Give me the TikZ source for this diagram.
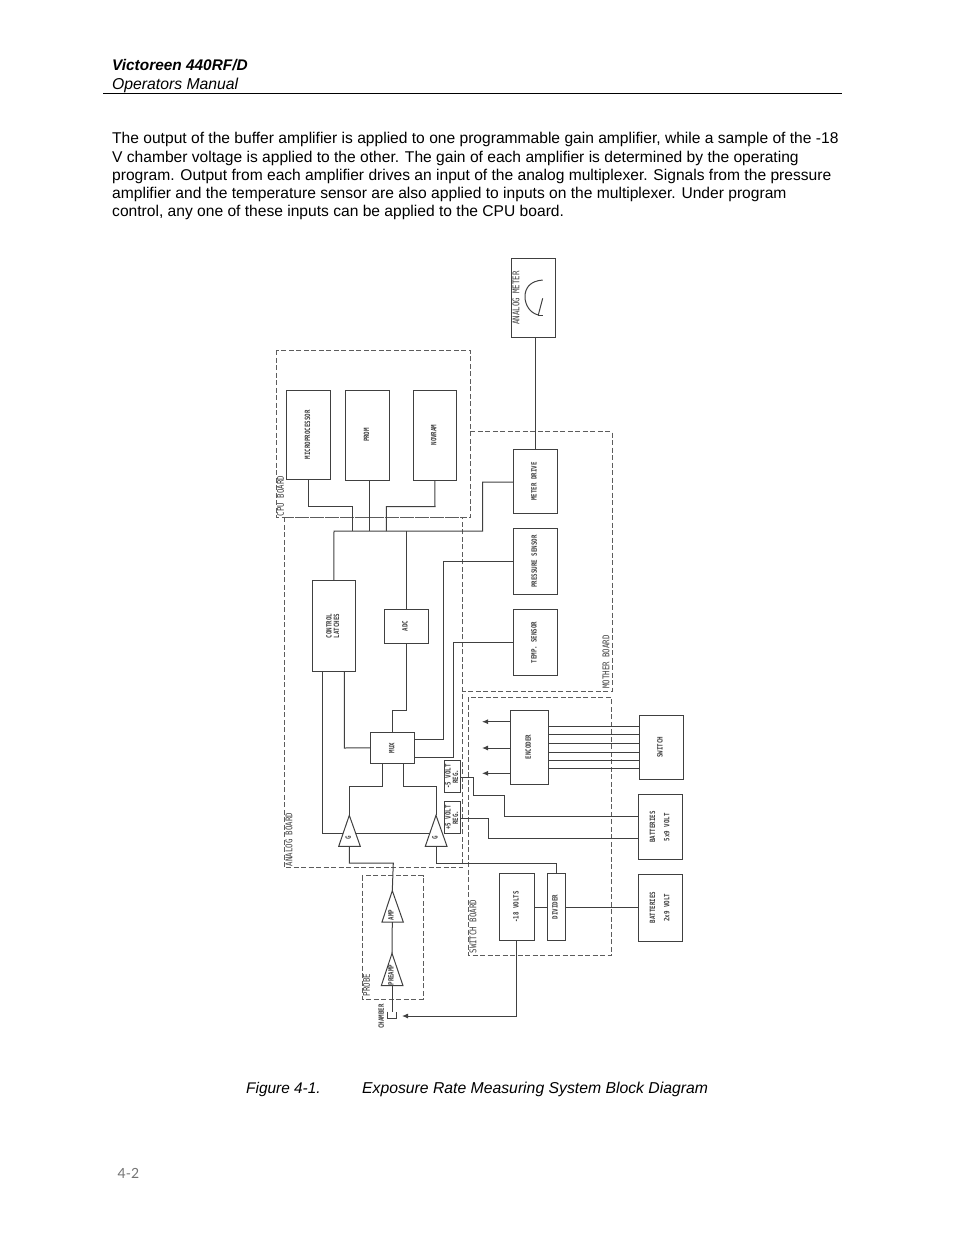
\documentclass[tikz,border=0pt]{standalone}
\usepackage{fontspec}
\usepackage{graphicx}
\setmainfont{Liberation Sans}
\newfontfamily\lblfont{DejaVu Sans Mono}
\newfontfamily\numfont{Lato}
\usetikzlibrary{arrows.meta}
\definecolor{ink}{gray}{0.25}
\newcommand{\biglbl}[1]{\rotatebox{90}{\scalebox{1}[1.25]{\fontsize{7.4}{8}\lblfont #1}}}
\newcommand{\smalllbl}[1]{\rotatebox{90}{\scalebox{1}[1.25]{\fontsize{5.8}{5.8}\lblfont\bfseries\begin{tabular}{@{}c@{}}#1\end{tabular}}}}
\newcommand{\blk}[6]{\node[blockbox,minimum width={(#4-#2)*1pt},minimum height={(#5-#3)*1pt}] (#1) at ({(#2+#4)/2},{(#3+#5)/2}) {#6};}
\tikzset{
 blockbox/.style={draw=ink,line width=1pt,inner sep=0pt,text=ink},
 wire/.style={draw=ink,line width=1pt},
 arrowwire/.style={wire,-{Latex[length=6pt,width=5pt]}},
 boardline/.style={draw=ink!85,line width=0.9pt,dash pattern=on 5pt off 2.5pt},
 pagetext/.style={anchor=base west,inner sep=0pt,font=\fontsize{15.6}{18}\selectfont,text=black},
 pageital/.style={pagetext,font=\fontsize{15.75}{18}\itshape},
 lbl/.style={inner sep=0pt,text=ink}
}
\begin{document}
\begin{tikzpicture}[x=1pt,y=-1pt]
\useasboundingbox (0,0) rectangle (954,1235);
% page text
\node[pageital,font=\fontsize{15.4}{18}\bfseries\itshape] (t1) at (112,70.5) {Victoreen 440RF/D};
\node[pageital] (t2) at (112,89.3) {Operators Manual};
\draw[line width=0.8pt] (103,93.7) -- (842,93.7);
\node[pagetext] (p1) at (112,143.5) {The output of the buffer amplifier is applied to one programmable gain amplifier, while a sample of the -18};
\node[pagetext] (p2) at (112,162) {V chamber voltage is applied to the other. The gain of each amplifier is determined by the operating};
\node[pagetext] (p3) at (112,180) {program.  Output from each amplifier drives an input of the analog multiplexer.  Signals from the pressure};
\node[pagetext] (p4) at (112,198) {amplifier and the temperature sensor are also applied to inputs on the multiplexer.  Under program};
\node[pagetext] (p5) at (112,216.5) {control, any one of these inputs can be applied to the CPU board.};
\node[pageital,font=\fontsize{15.4}{18}\itshape] (c1) at (246,1093) {Figure 4-1.};
\node[pageital] (c2) at (362,1093) {Exposure Rate Measuring System Block Diagram};
\node[pagetext,font=\fontsize{14}{16}\numfont,text=black!55] (pg) at (117.5,1178) {4-2};
% boards
\draw[boardline] (276,350.3) rectangle (470.3,517.3);
\draw[boardline] (284,517.3) rectangle (462.7,867.7);
\draw[boardline] (470.3,431.7) -- (612,431.7) -- (612,691) -- (462.7,691);
\draw[boardline] (468.7,697) rectangle (611,955.7);
\draw[boardline] (362,875.7) rectangle (423,999);
% blocks
\blk{meter}{511.7}{258.3}{555.3}{337.3}{}
\blk{drive}{513.3}{449.3}{557}{513.7}{\smalllbl{METER DRIVE}}
\blk{micro}{286.7}{390}{330.3}{479.7}{\smalllbl{MICROPROCESSOR}}
\blk{prom}{345.3}{390}{389.7}{480}{\smalllbl{PROM}}
\blk{nov}{413}{390}{456.7}{480}{\smalllbl{NOVRAM}}
\blk{latch}{312}{580.7}{355.7}{671.3}{\smalllbl{CONTROL\\LATCHES}}
\blk{adc}{384}{609.3}{428}{643}{\smalllbl{ADC}}
\blk{mux}{370.7}{732.3}{414.7}{763.3}{\smalllbl{MUX}}
\blk{press}{513.3}{528.3}{557}{594.3}{\smalllbl{PRESSURE SENSOR}}
\blk{temp}{513}{609.3}{557}{675.7}{\smalllbl{TEMP. SENSOR}}
\blk{encoder}{510.7}{710.3}{548}{784}{\smalllbl{ENCODER}}
\blk{switch}{639}{715}{683}{779.7}{\smalllbl{SWITCH}}
\blk{batb}{638.7}{794.7}{682.7}{859.7}{\smalllbl{BATTERIES\\[5.4pt]5x9 VOLT}}
\blk{batc}{638.7}{874.3}{682.7}{941}{\smalllbl{BATTERIES\\[5.4pt]2x9 VOLT}}
\blk{minus}{444.7}{760.7}{460.7}{792.3}{\smalllbl{-5 VOLT\\REG.}}
\blk{plus}{444.7}{801.3}{460.7}{833.7}{\smalllbl{+5 VOLT\\REG.}}
\blk{eighteen}{499.3}{873.7}{534.7}{940}{\smalllbl{-18 VOLTS}}
\blk{divider}{547.3}{873.7}{565}{940}{\smalllbl{DIVIDER}}
% amplifiers
\coordinate (g1a) at (349.3,815.3); \coordinate (g1b) at (349.3,846.3);
\coordinate (g2a) at (436,815.3); \coordinate (g2b) at (436,846.3);
\coordinate (ampa) at (392.3,890.7); \coordinate (ampb) at (392.3,922);
\coordinate (prea) at (392,953.3); \coordinate (preb) at (392,985.7);
\draw[wire] (g1a) -- (338.7,846.3) -- (360.3,846.3) -- cycle;
\draw[wire] (g2a) -- (425.3,846.3) -- (447,846.3) -- cycle;
\draw[wire] (ampa) -- (382,922) -- (403.3,922) -- cycle;
\draw[wire] (prea) -- (381.3,985.7) -- (403,985.7) -- cycle;
\node[lbl] (gl1) at (349.3,838) {\smalllbl{G}};
\node[lbl] (gl2) at (436,838) {\smalllbl{G}};
\node[lbl] (ampl) at (392,915) {\smalllbl{AMP}};
\node[lbl] (prel) at (392,975) {\smalllbl{PREAMP}};
% chamber
\coordinate (chamber) at (392,1011.7);
\coordinate (chamberr) at (402,1016);
\draw[wire] (387.7,1011.7) -- (387.7,1018.3) -- (396.7,1018.3) -- (396.7,1011.7);
\node[lbl] (chl) at (382.3,1016.7) {\smalllbl{CHAMBER}};
% board and meter labels
\node[lbl] (l1) at (516,298) {\biglbl{ANALOG METER}};
\node[lbl] (l2) at (280.5,496) {\biglbl{CPU BOARD}};
\node[lbl] (l3) at (606,662) {\biglbl{MOTHER BOARD}};
\node[lbl] (l4) at (289,839.5) {\biglbl{ANALOG BOARD}};
\node[lbl] (l5) at (473,926.7) {\biglbl{SWITCH BOARD}};
\node[lbl] (l6) at (366.5,985) {\biglbl{PROBE}};
% dial
\draw[wire] (542.7,280) .. controls (530,281) and (525,288) .. (525,296.7) .. controls (525,305) and (530,313) .. (538.3,315);
\draw[wire] (538.3,315.7) -- (543.3,315.7);
\draw[wire] (538.3,315) -- (542.7,298.3);
% connectors
\draw[wire] (meter.south -| 535.3,0) -- (drive.north -| 535.3,0);
\draw[wire] (micro.south) -- (308.5,506.7) -- (352,506.7) -- (352,531);
\draw[wire] (prom.south -| 369,0) -- (369,531);
\draw[wire] (nov.south) -- (435,506.7) -- (386.3,506.7) -- (386.3,531);
\draw[wire] (latch.north) -- (334,531) -- (482.7,531) -- (482.7,482) -- (drive.west |- 0,482);
\draw[wire] (406,531) -- (adc.north);
\draw[wire] (adc.south) -- (406,710.3) -- (392.7,710.3) -- (mux.north);
\draw[wire] (press.west) -- (443,561.3) -- (443,739.3) -- (mux.east |- 0,739.3);
\draw[wire] (temp.west) -- (453.7,642.5) -- (453.7,757) -- (mux.east |- 0,757);
\draw[wire] (latch.south -| 344.3,0) -- (344.3,748) -- (mux.west);
\draw[wire] (latch.south -| 322.7,0) -- (322.7,833.3) -- (343,833.3);
\draw[wire] (355.6,833.3) -- (429.7,833.3);
\draw[wire] (mux.south -| 382,0) -- (382,786.3) -- (349.3,786.3) -- (g1a);
\draw[wire] (mux.south -| 403.7,0) -- (403.7,786.3) -- (436,786.3) -- (g2a);
\draw[wire] (minus.east |- 0,777) -- (473.3,777) -- (473.3,795.3) -- (504,795.3) -- (504,816.3) -- (batb.west |- 0,816.3);
\draw[wire] (plus.east |- 0,818) -- (488.7,818) -- (488.7,838) -- (batb.west |- 0,838);
\foreach \yy in {726,734.7,743.3,752,760.7,768.3}
  \draw[wire] (encoder.east |- 0,\yy) -- (switch.west |- 0,\yy);
\foreach \yy in {721.7,748,773.3}
  \draw[arrowwire] (encoder.west |- 0,\yy) -- (482,\yy);
\draw[wire] (g1b) -- (349.3,863) -- (393.3,863) -- (ampa);
\draw[wire] (g2b) -- (436,863) -- (556,863) -- (divider.north -| 556,0);
\draw[wire] (ampb) -- (prea);
\draw[wire] (preb) -- (chamber);
\draw[wire] (eighteen.east |- 0,907.3) -- (divider.west |- 0,907.3);
\draw[wire] (divider.east |- 0,907.3) -- (batc.west |- 0,907.3);
\draw[arrowwire] (eighteen.south -| 516.3,0) -- (516.3,1016) -- (chamberr);
\end{tikzpicture}
\end{document}
